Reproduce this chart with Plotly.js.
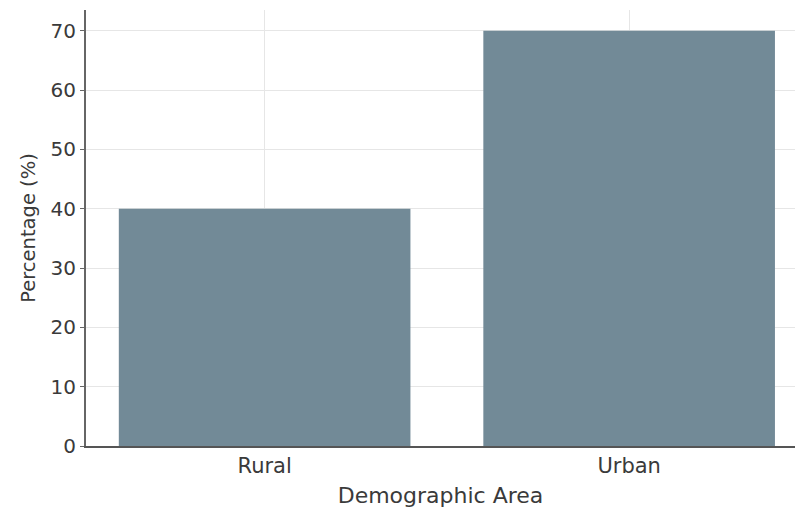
<!DOCTYPE html>
<html><head><meta charset="utf-8">
<script src="https://cdn.plot.ly/plotly-3.0.1.min.js"></script>
<style>html,body{margin:0;padding:0;background:#fff}</style>
</head><body>
<div id="chart" style="width:795px;height:510px"></div>
<script>
const categories = ["Rural", "Urban"];
const percentages = [40, 70];
const yTicks = [0, 10, 20, 30, 40, 50, 60, 70];

const trace = {
  type: "bar",
  x: categories,
  y: percentages,
  width: 0.8,
  marker: {color: "#728a97", line: {width: 0}},
  hoverinfo: "x+y"
};

const layout = {
  width: 795, height: 510,
  margin: {l: 86, r: 0, t: 10, b: 64},
  paper_bgcolor: "#ffffff",
  plot_bgcolor: "#ffffff",
  font: {family: "DejaVu Sans, sans-serif", color: "#3a3a3a", size: 20},
  showlegend: false,
  xaxis: {
    type: "category",
    range: [-0.49, 1.455],
    showgrid: true, gridcolor: "#e6e6e6", gridwidth: 1,
    showline: true, linecolor: "#555555", linewidth: 1.5,
    ticks: "", ticklen: 0,
    tickfont: {size: 21, color: "#3a3a3a"},
    title: {text: "Demographic Area", font: {size: 22, color: "#3a3a3a"}, standoff: 11}
  },
  yaxis: {
    range: [0, 73.5],
    tickvals: yTicks,
    showgrid: true, gridcolor: "#e6e6e6", gridwidth: 1,
    zeroline: false,
    showline: true, linecolor: "#666666", linewidth: 2,
    ticks: "outside", ticklen: 4, tickcolor: "#666666",
    tickfont: {size: 20, color: "#3a3a3a"},
    title: {text: "Percentage (%)", font: {size: 19.5, color: "#3a3a3a"}, standoff: 10}
  }
};

Plotly.newPlot("chart", [trace], layout, {displayModeBar: false, staticPlot: true});
</script>
</body></html>
